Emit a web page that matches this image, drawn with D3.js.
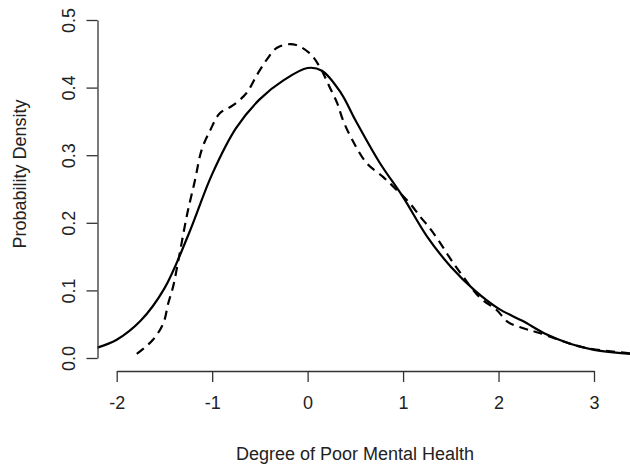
<!DOCTYPE html>
<html>
<head>
<meta charset="utf-8">
<script src="https://cdn.jsdelivr.net/npm/d3@7"></script>
<style>
  body { margin: 0; background: #fff; }
  svg text { font-family: "Liberation Sans", Arial, sans-serif; fill: #222; }
</style>
</head>
<body>
<svg id="chart" width="630" height="468"></svg>
<script>
// density estimates
var solidX = [-2.21, -2.0, -1.75, -1.5, -1.25, -1.0, -0.75, -0.5, -0.25, 0.0, 0.15, 0.35, 0.5, 0.75, 1.0, 1.25, 1.5, 1.75, 2.0, 2.25, 2.5, 2.75, 3.0, 3.38];
var solidY = [0.015, 0.027, 0.055, 0.103, 0.182, 0.272, 0.340, 0.383, 0.411, 0.429, 0.425, 0.392, 0.352, 0.290, 0.238, 0.180, 0.135, 0.100, 0.073, 0.055, 0.035, 0.021, 0.012, 0.006];

var dashedX = [-1.79, -1.62, -1.51, -1.46, -1.41, -1.36, -1.32, -1.26, -1.18, -1.11, -1.02, -0.92, -0.78, -0.64, -0.53, -0.43, -0.32, -0.15, 0.02, 0.13, 0.23, 0.31, 0.37, 0.47, 0.62, 0.79, 0.93, 1.07, 1.18, 1.28, 1.39, 1.49, 1.60, 1.80, 1.98, 2.10, 2.26, 2.43, 2.88, 3.38];
var dashedY = [0.006, 0.027, 0.052, 0.081, 0.105, 0.140, 0.170, 0.214, 0.263, 0.308, 0.337, 0.362, 0.374, 0.392, 0.419, 0.441, 0.459, 0.464, 0.451, 0.430, 0.401, 0.377, 0.352, 0.322, 0.288, 0.268, 0.249, 0.229, 0.209, 0.192, 0.170, 0.148, 0.126, 0.090, 0.071, 0.053, 0.044, 0.037, 0.016, 0.007];

var xTicks = [-2, -1, 0, 1, 2, 3];
var yTicks = [0.0, 0.1, 0.2, 0.3, 0.4, 0.5];
var xTitle = "Degree of Poor Mental Health";
var yTitle = "Probability Density";

var svg = d3.select("#chart"),
    cs = {
        plot: { left: 97.5, right: 630, top: 0, bottom: 371 },
        tickLen: 11,
        fontSize: 18
    };

cs.x = d3.scaleLinear().domain([-2, 3]).range([116.7, 594]);
cs.y = d3.scaleLinear().domain([0, 0.5]).range([358, 20]);

svg.append("clipPath").attr("id", "plotclip")
    .append("rect")
    .attr("x", cs.plot.left)
    .attr("y", cs.plot.top)
    .attr("width", cs.plot.right - cs.plot.left)
    .attr("height", cs.plot.bottom - cs.plot.top);

var line = d3.line()
    .x(d => cs.x(d[0]))
    .y(d => cs.y(d[1]))
    .curve(d3.curveCatmullRom.alpha(0.5));

var curves = svg.append("g").attr("clip-path", "url(#plotclip)");

curves.append("path")
    .datum(solidX.map((v, i) => [v, solidY[i]]))
    .attr("fill", "none")
    .attr("stroke", "#000")
    .attr("stroke-width", 2.2)
    .attr("d", line);

curves.append("path")
    .datum(dashedX.map((v, i) => [v, dashedY[i]]))
    .attr("fill", "none")
    .attr("stroke", "#000")
    .attr("stroke-width", 2.2)
    .attr("stroke-dasharray", "9,6")
    .attr("d", line);

// axes, R style: line spans first to last tick, plain hyphen minus
var xAxis = d3.axisBottom(cs.x).tickValues(xTicks).tickSize(cs.tickLen).tickSizeOuter(0).tickPadding(14)
    .tickFormat(d => String(d));
var gx = svg.append("g")
    .attr("transform", "translate(0," + cs.plot.bottom + ")")
    .call(xAxis);

var yAxis = d3.axisLeft(cs.y).tickValues(yTicks).tickSize(cs.tickLen).tickSizeOuter(0)
    .tickFormat(d => d.toFixed(1));
var gy = svg.append("g")
    .attr("transform", "translate(" + cs.plot.left + ",0)")
    .call(yAxis);

[gx, gy].forEach(g => {
    g.select(".domain").attr("stroke", "#333").attr("stroke-width", 1.3);
    g.selectAll(".tick line").attr("stroke", "#333").attr("stroke-width", 1.3);
    g.selectAll(".tick text").attr("font-size", cs.fontSize).attr("fill", "#222")
        .style("font-family", "Liberation Sans, Arial, sans-serif");
});

gy.selectAll(".tick text")
    .attr("x", null).attr("dy", null)
    .attr("text-anchor", "middle")
    .attr("transform", "translate(-21,0) rotate(-90)")
    .attr("dy", "-0.1em");

gx.selectAll(".tick text").attr("dy", "0.71em");

svg.append("text")
    .attr("x", 355)
    .attr("y", 460)
    .attr("text-anchor", "middle")
    .attr("font-size", cs.fontSize)
    .text(xTitle);

svg.append("text")
    .attr("transform", "translate(26,174) rotate(-90)")
    .attr("text-anchor", "middle")
    .attr("font-size", cs.fontSize)
    .text(yTitle);
</script>
</body>
</html>
